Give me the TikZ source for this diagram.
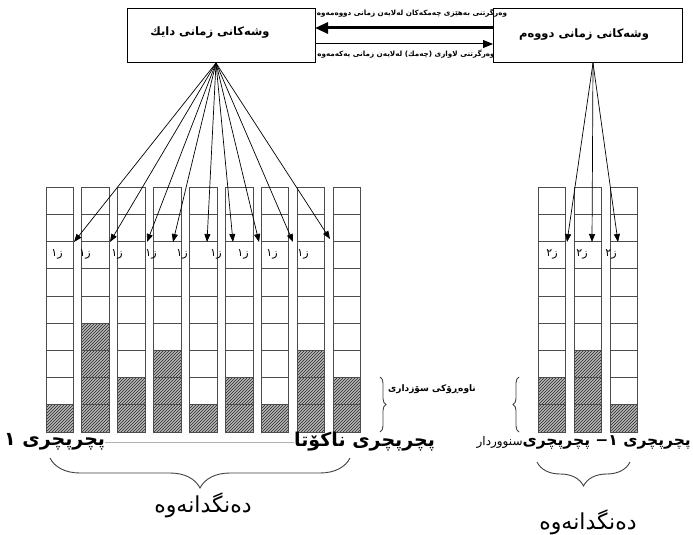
\documentclass[tikz,border=0pt]{standalone}
\usepackage{fontspec}
\usetikzlibrary{arrows.meta,patterns,decorations.pathreplacing}
\newfontfamily\ar[Script=Arabic]{DejaVu Sans}
\TeXXeTstate=1
\newcommand{\rtltext}[1]{\beginR #1\endR}
\begin{document}
\begin{tikzpicture}[x=1pt,y=-1pt,
  box/.style={draw, line width=1pt, inner sep=0pt, minimum height=54pt},
  colline/.style={draw=black!70, line width=0.9pt},
  hatch/.style={fill=gray!55, postaction={pattern=north east lines, pattern color=black!85}},
  arr/.style={-{Triangle[length=8pt,width=6pt]}, line width=0.7pt},
  thickarr/.style={-{Triangle[length=13pt,width=11pt]}, line width=3pt},
  thinarr/.style={-{Triangle[length=10pt,width=8pt]}, line width=1pt},
  zlab/.style={font=\ar\fontsize{11}{12}\selectfont, inner sep=0pt},
  brace/.style={decorate, draw=black!75, line width=0.9pt},
  txt/.style={inner sep=0pt}]
\useasboundingbox (0,0) rectangle (693,535);
% boxes
\node[box, minimum width=188pt] (mother) at (221,36) {};
\node[txt, font=\ar\bfseries\fontsize{11.5}{13}\selectfont] (mothertxt) at (210,33) {\rtltext{وشەکانی زمانی دایك}};
\node[box, minimum width=189pt] (second) at (587.5,36) {};
\node[txt, font=\ar\bfseries\fontsize{11.5}{13}\selectfont] (secondtxt) at (584,35) {\rtltext{وشەکانی زمانی دووەم}};
% horizontal arrows
\coordinate (h1a) at (493,28); \coordinate (h1b) at (315,28);
\coordinate (h2a) at (315,44); \coordinate (h2b) at (493,44);
\draw[thickarr] (h1a) -- (h1b);
\draw[thinarr] (h2a) -- (h2b);
\node[txt, font=\ar\bfseries\fontsize{7.2}{8}\selectfont] (strong) at (412,13) {\rtltext{وەرگرتنی بەهێزی چەمکەکان لەلایەن زمانی دووەمەوە}};
\node[txt, font=\ar\bfseries\fontsize{7.2}{8}\selectfont] (weak) at (406,54) {\rtltext{وەرگرتنی لاوازی (چەمك) لەلایەن زمانی یەکەمەوە}};
% left columns
\foreach \i/\n in {0/1,1/4,2/2,3/3,4/1,5/2,6/1,7/3,8/2} {
  \pgfmathsetmacro\xl{46+35.9*\i}
  \pgfmathsetmacro\yh{432.1-27.2*\n}
  \fill[hatch] (\xl,\yh) rectangle (\xl+27.5,432.1);
  \foreach \r in {1,...,8} \draw[colline] (\xl,187.3+27.2*\r) -- (\xl+27.5,187.3+27.2*\r);
  \draw[colline] (\xl,187.3) rectangle (\xl+27.5,432.1);
}
% right columns
\foreach \xl/\n in {538/2,574/3,610/1} {
  \pgfmathsetmacro\yh{432.1-27.2*\n}
  \fill[hatch] (\xl,\yh) rectangle (\xl+27.5,432.1);
  \foreach \r in {1,...,8} \draw[colline] (\xl,187.3+27.2*\r) -- (\xl+27.5,187.3+27.2*\r);
  \draw[colline] (\xl,187.3) rectangle (\xl+27.5,432.1);
}
% labels in cells
\foreach \k/\x in {1/57,2/85,3/117,4/151,5/182,6/216,7/243,8/272,9/303}
  \node[zlab] (za\k) at (\x,254) {\rtltext{ز١}};
\foreach \k/\x in {1/552,2/582,3/611}
  \node[zlab] (zb\k) at (\x,254) {\rtltext{ز٢}};
% fan arrows
\coordinate (s1) at (216,63);
\foreach \k/\x/\y in {1/74/242,2/110/242,3/147/242,4/173/242,5/207/242,6/233/242,7/259/242,8/293/242,9/330/239} {
  \coordinate (t\k) at (\x,\y);
  \draw[arr] (s1) -- (t\k);
}
\coordinate (s2) at (593,63);
\foreach \k/\x in {1/567,2/592,3/618} {
  \coordinate (u\k) at (\x,242);
  \draw[arr] (s2) -- (u\k);
}
% side braces
\coordinate (b1a) at (380,377); \coordinate (b1b) at (380,432);
\draw[brace, decoration={brace, amplitude=6pt}] (b1a) -- (b1b);
\coordinate (b2a) at (519,432); \coordinate (b2b) at (519,377);
\draw[brace, decoration={brace, amplitude=6pt}] (b2a) -- (b2b);
\node[txt, font=\ar\bfseries\fontsize{9}{10}\selectfont] (emo) at (432,389) {\rtltext{ناوەڕۆکی سۆزداری}};
% bottom labels
\node[txt, font=\ar\bfseries\fontsize{19}{21}\selectfont, anchor=west] (d1) at (4,442) {\rtltext{پچرپچری ١}};
\node[txt, font=\ar\bfseries\fontsize{19}{21}\selectfont, anchor=west] (dinf) at (294,442) {\rtltext{پچرپچری ناکۆتا}};
\draw[gray!60, line width=0.6pt] (d1) -- (dinf);
\node[txt, font=\ar\bfseries\fontsize{15.5}{17}\selectfont, anchor=east] (dlim) at (691,442) {\rtltext{پچرپچری ١− پچرپچری{\mdseries\fontsize{12}{13}\selectfont سنووردار}}};
% bottom braces
\coordinate (c1a) at (350,458); \coordinate (c1b) at (50,458);
\draw[brace, decoration={brace, amplitude=30pt}] (c1a) -- (c1b);
\coordinate (c2a) at (630,462); \coordinate (c2b) at (537,462);
\draw[brace, decoration={brace, amplitude=24pt}] (c2a) -- (c2b);
\node[txt, font=\ar\fontsize{22}{24}\selectfont] (echo1) at (203,505) {\rtltext{دەنگدانەوە}};
\node[txt, font=\ar\fontsize{22}{24}\selectfont] (echo2) at (588,522) {\rtltext{دەنگدانەوە}};
\end{tikzpicture}
\end{document}
